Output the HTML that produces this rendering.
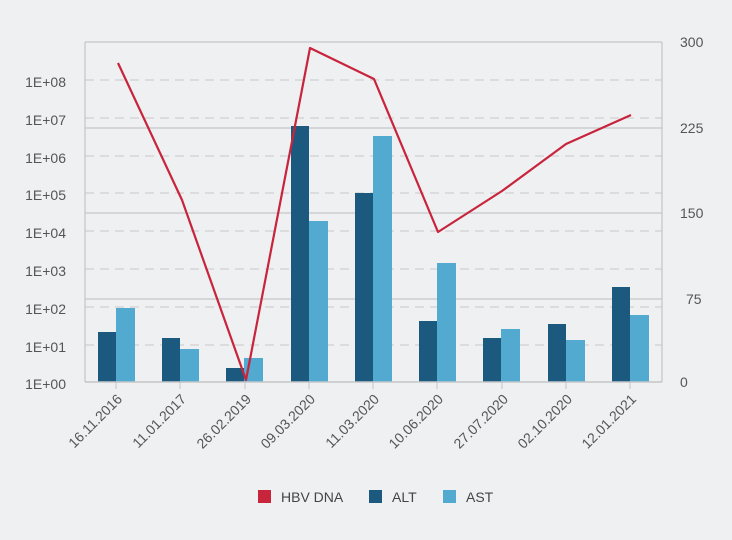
<!DOCTYPE html><html><head><style>body{margin:0;background:#eff0f2}svg{display:block;font-family:"Liberation Sans",sans-serif}</style></head><body>
<svg width="732" height="540" viewBox="0 0 732 540">
<rect width="732" height="540" fill="#eff0f2"/>
<g stroke="#c8c9cc" stroke-dasharray="9,6" stroke-width="1">
<line x1="85" x2="662" y1="80" y2="80"/><line x1="85" x2="662" y1="118" y2="118"/><line x1="85" x2="662" y1="156" y2="156"/><line x1="85" x2="662" y1="193" y2="193"/><line x1="85" x2="662" y1="231" y2="231"/><line x1="85" x2="662" y1="269" y2="269"/><line x1="85" x2="662" y1="307" y2="307"/><line x1="85" x2="662" y1="345" y2="345"/></g>
<g stroke="#c4c5c8" stroke-width="1.2"><line x1="85" x2="662" y1="42" y2="42"/><line x1="85" x2="662" y1="128" y2="128"/><line x1="85" x2="662" y1="213" y2="213"/><line x1="85" x2="662" y1="299" y2="299"/><line x1="85" x2="85" y1="42" y2="382"/><line x1="662" x2="662" y1="42" y2="382"/></g>
<g fill="#1b5a7e"><rect x="98" y="332" width="18" height="50"/><rect x="162" y="338" width="18" height="44"/><rect x="226" y="368" width="18" height="14"/><rect x="291" y="126" width="18" height="256"/><rect x="355" y="193" width="18" height="189"/><rect x="419" y="321" width="18" height="61"/><rect x="483" y="338" width="18" height="44"/><rect x="548" y="324" width="18" height="58"/><rect x="612" y="287" width="18" height="95"/></g>
<g fill="#52aad0"><rect x="116" y="308" width="19" height="74"/><rect x="180" y="349" width="19" height="33"/><rect x="244" y="358" width="19" height="24"/><rect x="309" y="221" width="19" height="161"/><rect x="373" y="136" width="19" height="246"/><rect x="437" y="263" width="19" height="119"/><rect x="501" y="329" width="19" height="53"/><rect x="566" y="340" width="19" height="42"/><rect x="630" y="315" width="19" height="67"/></g>
<line x1="85" x2="662" y1="382" y2="382" stroke="#c4c5c8" stroke-width="1.5"/>
<g stroke="#c4c5c8"><line x1="116" x2="116" y1="382" y2="389"/><line x1="180" x2="180" y1="382" y2="389"/><line x1="245" x2="245" y1="382" y2="389"/><line x1="309" x2="309" y1="382" y2="389"/><line x1="373" x2="373" y1="382" y2="389"/><line x1="437" x2="437" y1="382" y2="389"/><line x1="502" x2="502" y1="382" y2="389"/><line x1="566" x2="566" y1="382" y2="389"/><line x1="630" x2="630" y1="382" y2="389"/></g>
<polyline fill="none" stroke="#c8243c" stroke-width="2.2" stroke-linejoin="round" points="118,63 182,200 246,380 310,48 374,79 438,232 502,191 566,144 631,115"/>
<g fill="#555" font-size="14" text-anchor="end"><text x="66" y="87">1E+08</text><text x="66" y="125">1E+07</text><text x="66" y="163">1E+06</text><text x="66" y="200">1E+05</text><text x="66" y="238">1E+04</text><text x="66" y="276">1E+03</text><text x="66" y="314">1E+02</text><text x="66" y="352">1E+01</text><text x="66" y="389">1E+00</text></g>
<g fill="#555" font-size="14"><text x="680" y="47">300</text><text x="680" y="133">225</text><text x="680" y="218">150</text><text x="686" y="304">75</text><text x="680" y="387">0</text></g>
<g fill="#555" font-size="14" text-anchor="end">
<text transform="translate(123,400) rotate(-45)">16.11.2016</text><text transform="translate(187,400) rotate(-45)">11.01.2017</text><text transform="translate(252,400) rotate(-45)">26.02.2019</text><text transform="translate(316,400) rotate(-45)">09.03.2020</text><text transform="translate(380,400) rotate(-45)">11.03.2020</text><text transform="translate(444,400) rotate(-45)">10.06.2020</text><text transform="translate(509,400) rotate(-45)">27.07.2020</text><text transform="translate(573,400) rotate(-45)">02.10.2020</text><text transform="translate(637,400) rotate(-45)">12.01.2021</text></g>
<rect x="258" y="490" width="13" height="13" fill="#c8243c"/><text x="281" y="502" font-size="14" fill="#444">HBV DNA</text>
<rect x="369" y="490" width="13" height="13" fill="#1b5a7e"/><text x="392" y="502" font-size="14" fill="#444">ALT</text>
<rect x="443" y="490" width="13" height="13" fill="#52aad0"/><text x="466" y="502" font-size="14" fill="#444">AST</text>
</svg></body></html>
